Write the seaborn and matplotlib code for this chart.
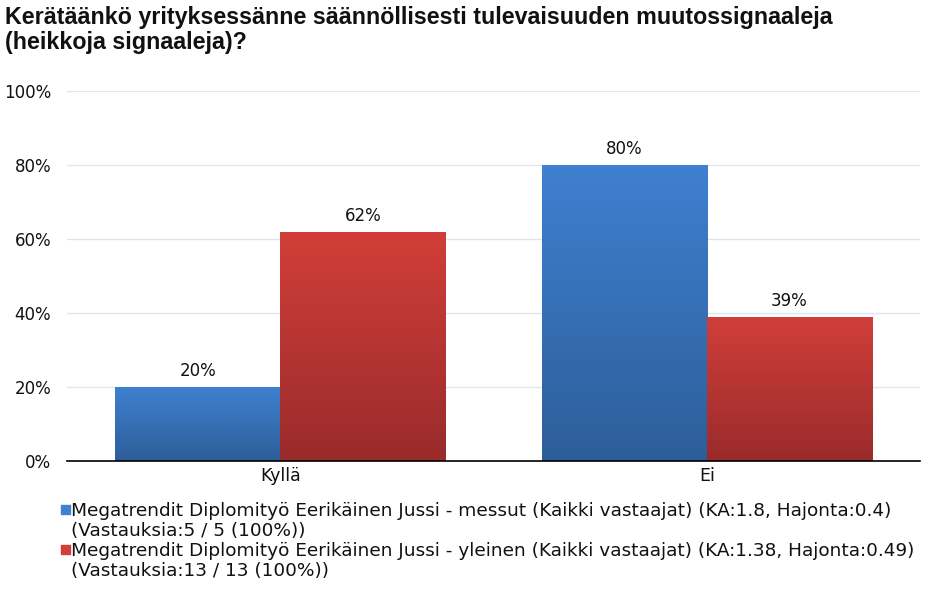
import matplotlib
matplotlib.use("Agg")
import matplotlib.pyplot as plt
import seaborn as sns
import numpy as np
import pandas as pd
from matplotlib.colors import LinearSegmentedColormap

categories = ["Kyllä", "Ei"]
series_names = [
    "Megatrendit Diplomityö Eerikäinen Jussi - messut (Kaikki vastaajat) (KA:1.8, Hajonta:0.4)\n(Vastauksia:5 / 5 (100%))",
    "Megatrendit Diplomityö Eerikäinen Jussi - yleinen (Kaikki vastaajat) (KA:1.38, Hajonta:0.49)\n(Vastauksia:13 / 13 (100%))",
]
messut = [20, 80]
yleinen = [62, 39]
yticks = [0, 20, 40, 60, 80, 100]
title = "Kerätäänkö yrityksessänne säännöllisesti tulevaisuuden muutossignaaleja\n(heikkoja signaaleja)?"

sns.set_theme(style="white")
plt.rcParams['font.family'] = ["DejaVu Sans"]

df = pd.DataFrame({
    "cat": categories * 2,
    "val": messut + yleinen,
    "series": [series_names[0]] * 2 + [series_names[1]] * 2,
})

top_cols = ["#3f80d0", "#d23e39"]
bot_cols = ["#2d5e99", "#992b2b"]

fig = plt.figure(figsize=(9.32, 6.05), dpi=100)
ax = fig.add_axes([67/932, 1-461/605, (920-67)/932, (461-91)/605])
sns.barplot(data=df, x="cat", y="val", hue="series", palette=top_cols,
            width=0.774, gap=0, ax=ax, legend=False, saturation=1)

ax.set_ylim(0, 100)
ax.set_xlim(-0.5, 1.5)
ax.set_yticks(yticks)
ax.set_yticklabels([f"{t}%" for t in yticks], fontsize=12, color="#111111")
ax.set_xlabel("")
ax.set_ylabel("")
ax.tick_params(axis="x", labelsize=12.5, length=0, pad=4, labelcolor="#111111")
ax.tick_params(axis="y", length=0, pad=11.5)
ax.yaxis.grid(True, color="#dde6f0", linewidth=1)
ax.set_axisbelow(True)
for s in ["left", "right", "top"]:
    ax.spines[s].set_visible(False)
ax.spines["bottom"].set_color("black")
ax.spines["bottom"].set_linewidth(1.2)

# gradient fill per bar
for i, cont in enumerate(ax.containers):
    cmap = LinearSegmentedColormap.from_list(f"g{i}", [bot_cols[i], top_cols[i]])
    for patch in cont.patches:
        x0 = patch.get_x(); w = patch.get_width(); h = patch.get_height()
        grad = np.linspace(0, 1, 256).reshape(-1, 1)
        im = ax.imshow(grad, extent=[x0, x0 + w, 0, h], origin="lower",
                       cmap=cmap, aspect="auto", zorder=2)
        im.set_clip_path(patch)
        patch.set_edgecolor("none")
    ax.bar_label(cont, labels=[f"{v:.0f}%" for v in cont.datavalues],
                 padding=5, fontsize=12, color="#111111")
ax.set_xlim(-0.5, 1.5)
ax.set_ylim(0, 100)

fig.text(5/932, 1-6/605, title, fontsize=16.75, fontweight="bold",
         family=["Liberation Sans", "DejaVu Sans"],
         va="top", ha="left", linespacing=1.12, color="#111111")

# legend
ys = [505, 545]
for i, name in enumerate(series_names):
    fig.patches.append(plt.Rectangle((61/932, 1-(ys[i]+9)/605), 9/932, 9/605,
                                     transform=fig.transFigure, color=top_cols[i]))
    fig.text(71/932, 1-(ys[i]-3)/605, name, fontsize=13.3,
             va="top", ha="left", linespacing=1.12, color="#111111")

fig.savefig("out.png", dpi=100)
